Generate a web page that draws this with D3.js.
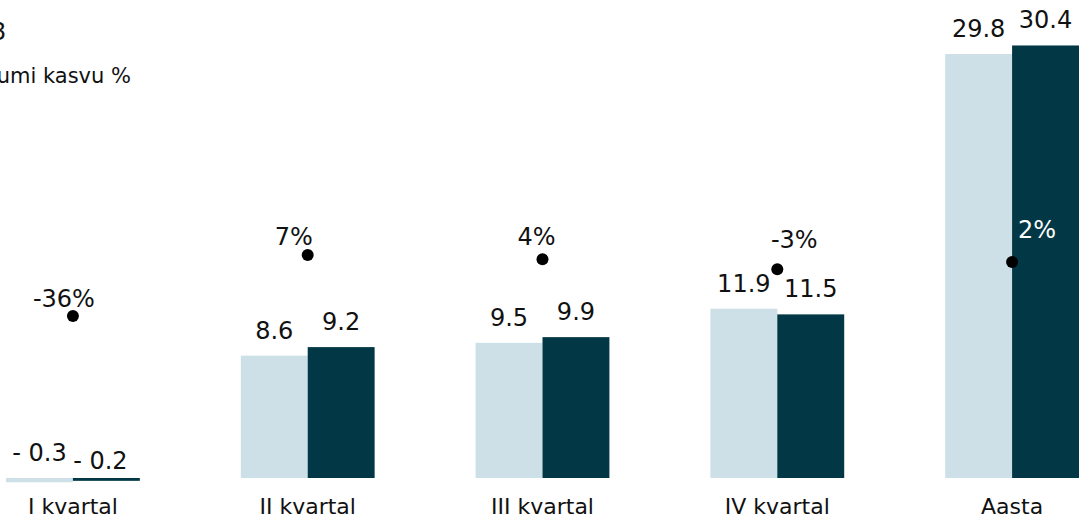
<!doctype html>
<html lang="et">
<head>
  <meta charset="utf-8">
  <title>Kasum kvartalite kaupa</title>
  <script src="https://cdnjs.cloudflare.com/ajax/libs/d3/7.8.5/d3.min.js"></script>
  <style>
    body { margin: 0; overflow: hidden; background: #fff; }
    text { font-family: "DejaVu Sans", sans-serif; fill: #111; }
  </style>
</head>
<body>
<script>
  // data
  const categories = ["I kvartal", "II kvartal", "III kvartal", "IV kvartal", "Aasta"];
  const values2017 = [-0.3, 8.6, 9.5, 11.9, 29.8];
  const values2018 = [-0.2, 9.2, 9.9, 11.5, 30.4];
  const growth = [-36, 7, 4, -3, 2];
  const labels2017 = ["- 0.3", "8.6", "9.5", "11.9", "29.8"];
  const labels2018 = ["- 0.2", "9.2", "9.9", "11.5", "30.4"];

  const width = 1089, height = 520;
  const light = "#cde0e8", dark = "#023845";

  // hand placed growth labels (offset from the dot)
  const growthDx = [-9, -14, -6, 17, 25];
  const growthDy = [-9, -10, -14, -21, -24];

  const svg = d3.select("body").append("svg")
    .attr("width", width)
    .attr("height", height);

  let x = d3.scaleBand()
    .domain(categories)
    .range([6, 1079])
    .paddingInner(0.43)
    .paddingOuter(0);

  let y = d3.scaleLinear()
    .domain([0, 29.8])
    .range([478, 54]);

  // growth % is on its own scale
  let g = d3.scaleLinear()
    .domain([-36, 7])
    .range([316, 255]);

  const bw = x.bandwidth() / 2;

  function bar(x0, v, fill) {
    svg.append("rect")
      .attr("x", x0)
      .attr("y", Math.min(y(0), y(v)))
      .attr("width", bw)
      .attr("height", Math.abs(y(0) - y(v)))
      .attr("fill", fill);
  }

  categories.forEach((c, i) => {
    let x0 = x(c);
    let v1 = values2017[i], v2 = values2018[i];

    bar(x0, v1, light);
    bar(x0 + bw, v2, dark);

    svg.append("text")
      .attr("x", x0 + bw / 2)
      .attr("y", y(Math.max(0, v1)) - 17)
      .attr("text-anchor", "middle")
      .style("font-size", "24px")
      .text(labels2017[i]);

    svg.append("text")
      .attr("x", x0 + bw * 1.5 - (i == 0 ? 6 : 0))
      .attr("y", y(Math.max(0, v2)) - 17 + (i == 0 ? 8 : 0))
      .attr("text-anchor", "middle")
      .style("font-size", "24px")
      .text(labels2018[i]);

    // category label
    svg.append("text")
      .attr("x", x0 + bw)
      .attr("y", 514)
      .attr("text-anchor", "middle")
      .style("font-size", "22px")
      .text(c);

    // growth dot
    let cx = x0 + bw, cy = g(growth[i]);
    svg.append("circle")
      .attr("cx", cx)
      .attr("cy", cy)
      .attr("r", 6)
      .attr("fill", "#000");

    let last = i == categories.length - 1;
    svg.append("text")
      .attr("x", cx + growthDx[i])
      .attr("y", cy + growthDy[i])
      .attr("text-anchor", "middle")
      .style("font-size", "24px")
      .style("fill", last ? "#fff" : "#111")
      .text(growth[i] < 0 ? "-" + Math.abs(growth[i]) + "%" : growth[i] + "%");
  });

  // legend, cut off at the left edge like the picture
  svg.append("text")
    .attr("x", 6)
    .attr("y", 40)
    .attr("text-anchor", "end")
    .style("font-size", "24px")
    .text("2018");

  svg.append("text")
    .attr("x", 131)
    .attr("y", 83)
    .attr("text-anchor", "end")
    .style("font-size", "21px")
    .text("Kasumi kasvu %");
</script>
</body>
</html>
